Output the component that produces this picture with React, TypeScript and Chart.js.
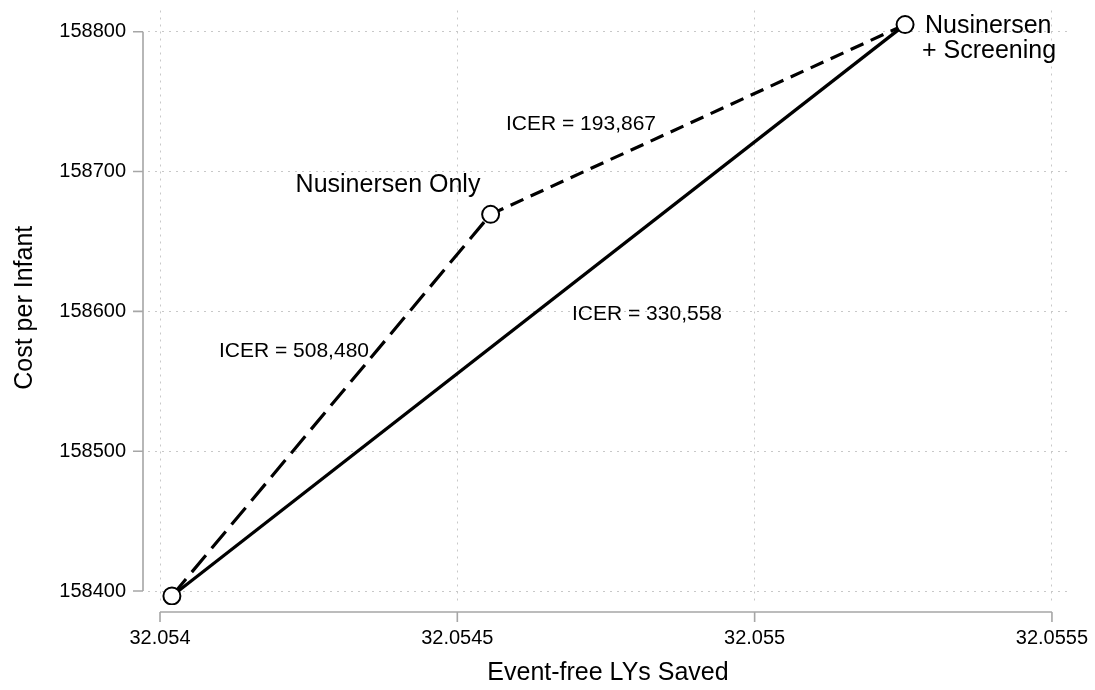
import React, { useEffect, useRef } from "react";
import { Chart, registerables } from "chart.js";

Chart.register(...registerables);

// ---- Data ----
const strategyNames = ["No Nusinersen", "Nusinersen Only", "Nusinersen + Screening"];
const lysSaved = [32.05402, 32.054556, 32.055253];
const costPerInfant = [158396.5, 158669.4, 158805.1];

const xTickValues = [32.054, 32.0545, 32.055, 32.0555];
const xTickLabels = ["32.054", "32.0545", "32.055", "32.0555"];
const yTickValues = [158400, 158500, 158600, 158700, 158800];
const yTickLabels = ["158400", "158500", "158600", "158700", "158800"];

const icerTexts = ["ICER = 508,480", "ICER = 193,867", "ICER = 330,558"];
const icerX = [32.0542253, 32.054708, 32.054819];
const icerY = [158567.2, 158729.5, 158594.1];

const xTitle = "Event-free LYs Saved";
const yTitle = "Cost per Infant";

const FONT = "'Liberation Sans', Arial, Helvetica, sans-serif";

const annotationPlugin = {
  id: "annotations",
  afterDatasetsDraw(chart: any) {
    const { ctx, scales, chartArea } = chart;
    const xs = scales.x;
    const ys = scales.y;
    ctx.save();
    ctx.strokeStyle = "#a6a6a6";
    ctx.lineWidth = 1.6;
    const yAxisX = chartArea.left - 5;
    ctx.beginPath();
    ctx.moveTo(yAxisX, ys.getPixelForValue(yTickValues[yTickValues.length - 1]));
    ctx.lineTo(yAxisX, ys.getPixelForValue(yTickValues[0]));
    yTickValues.forEach((v) => {
      const py = ys.getPixelForValue(v);
      ctx.moveTo(yAxisX - 10, py);
      ctx.lineTo(yAxisX, py);
    });
    const xAxisY = chartArea.bottom + 7;
    ctx.moveTo(xs.getPixelForValue(xTickValues[0]), xAxisY);
    ctx.lineTo(xs.getPixelForValue(xTickValues[xTickValues.length - 1]), xAxisY);
    xTickValues.forEach((v) => {
      const px = xs.getPixelForValue(v);
      ctx.moveTo(px, xAxisY);
      ctx.lineTo(px, xAxisY + 10);
    });
    ctx.stroke();

    ctx.fillStyle = "#000";
    ctx.textBaseline = "alphabetic";
    ctx.textAlign = "center";
    ctx.font = `21px ${FONT}`;
    icerTexts.forEach((t, i) => {
      ctx.fillText(t, xs.getPixelForValue(icerX[i]), ys.getPixelForValue(icerY[i]));
    });

    ctx.font = `25px ${FONT}`;
    ctx.textAlign = "center";
    ctx.fillText(strategyNames[1], xs.getPixelForValue(32.0543834), ys.getPixelForValue(158685.5));
    ctx.textAlign = "left";
    ctx.fillText("Nusinersen", xs.getPixelForValue(32.0552865), ys.getPixelForValue(158798.9));
    ctx.fillText("+ Screening", xs.getPixelForValue(32.0552815), ys.getPixelForValue(158781.2));
    ctx.restore();
  },
};

const zeroPad = (s: any) => {
  s.paddingTop = 0;
  s.paddingBottom = 0;
  s.paddingLeft = 0;
  s.paddingRight = 0;
};

export default function App() {
  const canvasRef = useRef<HTMLCanvasElement | null>(null);

  useEffect(() => {
    document.body.style.margin = "0";
    const canvas = canvasRef.current;
    if (!canvas) return;
    const pts = lysSaved.map((x, i) => ({ x, y: costPerInfant[i] }));
    const chart = new Chart(canvas, {
      type: "scatter",
      data: {
        datasets: [
          {
            label: "Strategies",
            data: pts,
            pointRadius: 8.5,
            pointBorderWidth: 2,
            pointBackgroundColor: "#ffffff",
            pointBorderColor: "#000000",
            showLine: false,
          },
          {
            label: "Nusinersen + Screening vs none",
            data: [pts[0], pts[2]],
            showLine: true,
            borderColor: "#000",
            borderWidth: 3.2,
            pointRadius: 0,
          },
          {
            label: "Nusinersen Only vs none",
            data: [pts[0], pts[1]],
            showLine: true,
            borderColor: "#000",
            borderWidth: 3.2,
            borderDash: [22, 9],
            pointRadius: 0,
          },
          {
            label: "Nusinersen + Screening vs Nusinersen Only",
            data: [pts[1], pts[2]],
            showLine: true,
            borderColor: "#000",
            borderWidth: 3.2,
            borderDash: [14, 8],
            pointRadius: 0,
          },
        ],
      },
      options: {
        animation: false,
        responsive: false,
        maintainAspectRatio: false,
        layout: { padding: { top: 5, right: 27, left: 0, bottom: 0 } },
        plugins: {
          legend: { display: false },
          tooltip: { enabled: false },
        },
        scales: {
          x: {
            type: "linear",
            min: 32.0539798,
            max: 32.055527,
            afterBuildTicks: (s: any) => {
              s.ticks = xTickValues.map((v) => ({ value: v }));
            },
            afterFit: (s: any) => {
              s.height = 85;
              zeroPad(s);
            },
            ticks: {
              padding: 21,
              color: "#000",
              font: { family: FONT, size: 20 },
              maxRotation: 0,
              autoSkip: false,
              callback: (v: any) => {
                const i = xTickValues.findIndex((t) => Math.abs(t - Number(v)) < 1e-9);
                return i >= 0 ? xTickLabels[i] : "";
              },
            },
            grid: { color: "#c8c8c8", lineWidth: 1, drawTicks: false },
            border: { display: false, dash: [2, 5] },
            title: {
              display: true,
              text: xTitle,
              color: "#000",
              font: { family: FONT, size: 25, lineHeight: 1.2 },
              padding: { top: 0, bottom: 2 },
            },
          },
          y: {
            type: "linear",
            min: 158390,
            max: 158815.2,
            afterBuildTicks: (s: any) => {
              s.ticks = yTickValues.map((v) => ({ value: v }));
            },
            afterFit: (s: any) => {
              s.width = 148;
              zeroPad(s);
            },
            ticks: {
              padding: 22,
              color: "#000",
              font: { family: FONT, size: 20 },
              autoSkip: false,
              callback: (v: any) => {
                const i = yTickValues.findIndex((t) => Math.abs(t - Number(v)) < 1e-6);
                return i >= 0 ? yTickLabels[i] : "";
              },
            },
            grid: { color: "#c8c8c8", lineWidth: 1, drawTicks: false },
            border: { display: false, dash: [2, 5] },
            title: {
              display: true,
              text: yTitle,
              color: "#000",
              font: { family: FONT, size: 25, lineHeight: 1.2 },
              padding: { top: 10, bottom: 0 },
            },
          },
        },
      },
      plugins: [annotationPlugin],
    });
    return () => chart.destroy();
  }, []);

  return (
    <div style={{ position: "absolute", left: 0, top: 0, width: 1095, height: 690, background: "#fff" }}>
      <canvas ref={canvasRef} width={1095} height={690} style={{ width: 1095, height: 690, display: "block" }} />
    </div>
  );
}
